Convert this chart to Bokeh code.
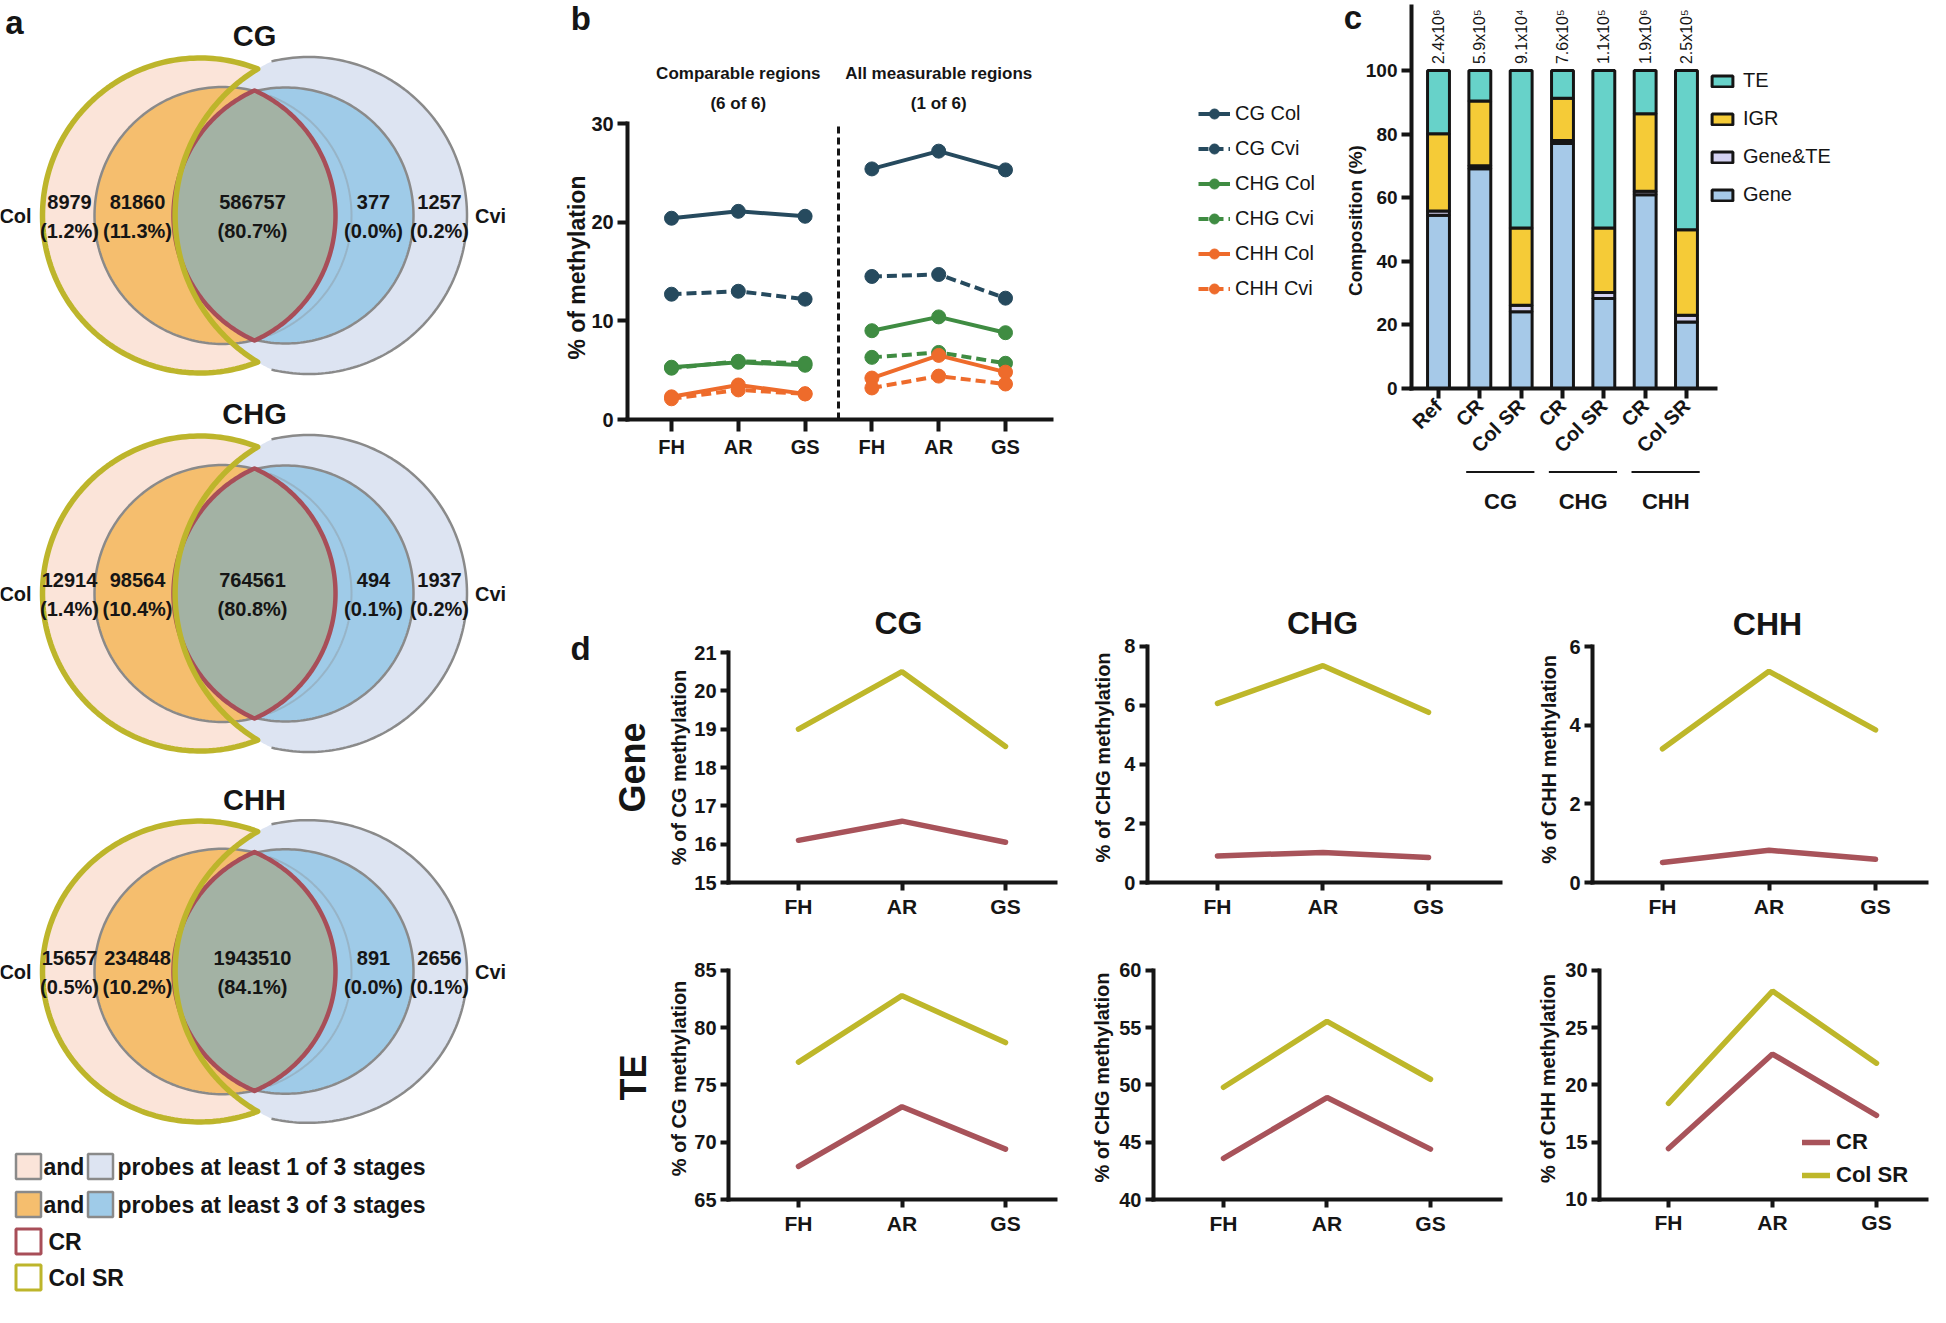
import numpy as np
from bokeh.plotting import figure
from bokeh.models import (ColumnDataSource, Range1d, FixedTicker, Legend, LegendItem)
from bokeh.layouts import row, column
from bokeh.embed import file_html
from bokeh.resources import INLINE
from bokeh.core.properties import value

SANS = "Liberation Sans"
INK = "#151515"

# ------------------------------------------------------------------ DATA
# (a) Venn diagrams
venn_titles = ["CG", "CHG", "CHH"]
col_only = [8979, 12914, 15657]
col_only_pct = [1.2, 1.4, 0.5]
col_3of3 = [81860, 98564, 234848]
col_3of3_pct = [11.3, 10.4, 10.2]
common = [586757, 764561, 1943510]
common_pct = [80.7, 80.8, 84.1]
cvi_3of3 = [377, 494, 891]
cvi_3of3_pct = [0.0, 0.1, 0.0]
cvi_only = [1257, 1937, 2656]
cvi_only_pct = [0.2, 0.2, 0.1]
legend_a_rows = ["probes at least 1 of 3 stages", "probes at least 3 of 3 stages"]

# (b) % methylation
stages = ["FH", "AR", "GS"]
b_titles = [("Comparable regions", "(6 of 6)"), ("All measurable regions", "(1 of 6)")]
b_names = ["CG Col", "CG Cvi", "CHG Col", "CHG Cvi", "CHH Col", "CHH Cvi"]
cg_col_comp = [20.4, 21.1, 20.6]
cg_col_all = [25.4, 27.2, 25.3]
cg_cvi_comp = [12.7, 13.0, 12.2]
cg_cvi_all = [14.5, 14.7, 12.3]
chg_col_comp = [5.3, 5.8, 5.5]
chg_col_all = [9.0, 10.4, 8.8]
chg_cvi_comp = [5.2, 5.9, 5.7]
chg_cvi_all = [6.3, 6.8, 5.7]
chh_col_comp = [2.3, 3.5, 2.6]
chh_col_all = [4.2, 6.5, 4.8]
chh_cvi_comp = [2.1, 3.0, 2.6]
chh_cvi_all = [3.2, 4.4, 3.6]

# (c) composition
c_bars = ["Ref", "CR", "Col SR", "CR", "Col SR", "CR", "Col SR"]
c_groups = ["CG", "CHG", "CHH"]
c_counts = ["2.4x10\u2076", "5.9x10\u2075", "9.1x10\u2074", "7.6x10\u2075",
            "1.1x10\u2075", "1.9x10\u2076", "2.5x10\u2075"]
c_gene = [54.5, 69.1, 24.1, 77.0, 28.3, 60.9, 20.9]
c_gene_te = [1.3, 0.9, 2.1, 1.0, 1.9, 1.1, 2.1]
c_igr = [24.3, 20.4, 24.3, 13.3, 20.3, 24.4, 26.9]
c_te = [19.9, 9.6, 49.5, 8.7, 49.5, 13.6, 50.1]

# (d) Gene / TE methylation
gene_cg_cr = [16.1, 16.6, 16.05]
gene_cg_sr = [19.0, 20.5, 18.55]
gene_chg_cr = [0.9, 1.02, 0.85]
gene_chg_sr = [6.07, 7.35, 5.77]
gene_chh_cr = [0.51, 0.82, 0.59]
gene_chh_sr = [3.40, 5.37, 3.88]
te_cg_cr = [67.9, 73.1, 69.4]
te_cg_sr = [77.0, 82.8, 78.7]
te_chg_cr = [43.6, 48.9, 44.4]
te_chg_sr = [49.8, 55.55, 50.5]
te_chh_cr = [14.45, 22.7, 17.35]
te_chh_sr = [18.4, 28.2, 21.9]

# ------------------------------------------------------------------ STYLE
PEACH, LAV, ORANGE, BLUE = "#FBE4D9", "#DDE4F2", "#F5BE6E", "#9FCBE8"
LENS, GRAY, RED, OLIVE = "#A3B2A4", "#8A8A8A", "#A84E58", "#BDB52B"
CG_C, CHG_C, CHH_C = "#264A5E", "#3F8C42", "#EE6B2B"
TE_C, IGR_C, GTE_C, GENE_C = "#67D2C9", "#F5CB37", "#D4D2F2", "#A6C9E8"
CR_C, SR_C = "#A8535A", "#BEB72A"


def full_fig(width, height, xr, yr, axes=True):
    kw = {} if axes else dict(x_axis_type=None, y_axis_type=None)
    p = figure(width=width, height=height, x_range=Range1d(*xr), y_range=Range1d(*yr),
               output_backend="svg", toolbar_location=None, min_border=0, **kw)
    p.title.visible = False
    p.grid.visible = False
    p.outline_line_color = None
    p.background_fill_color = "white"
    return p


def style_axes(p, xloc, xb, yloc, yb, tick_out=10, tick_size="20px"):
    p.xaxis.fixed_location = xloc
    p.xaxis.bounds = xb
    p.yaxis.fixed_location = yloc
    p.yaxis.bounds = yb
    for ax in p.axis:
        ax.axis_line_width = 4
        ax.axis_line_color = INK
        ax.axis_line_cap = "square"
        ax.major_tick_line_width = 4
        ax.major_tick_line_color = INK
        ax.major_tick_out = tick_out
        ax.major_tick_in = 0
        ax.minor_tick_line_color = None
        ax.major_label_text_font = SANS
        ax.major_label_text_font_style = "bold"
        ax.major_label_text_font_size = tick_size
        ax.major_label_text_color = INK
        ax.major_label_standoff = 4


def txt(p, x, y, texts, size, bold=True, align="center", angle=0.0, baseline="middle"):
    p.text(x=x, y=y, text=texts, angle=angle, text_font=value(SANS),
           text_font_style="bold" if bold else "normal", text_font_size=size,
           text_align=align, text_baseline=baseline, text_color=INK)


def arc(cx, cy, r, sy, t0, t1, n=160):
    t = np.linspace(t0, t1, n)
    return cx + r * np.cos(t), cy + r * sy * np.sin(t)


def circle_cross(ax_, ra, bx_, rb):
    xi = (ra ** 2 - rb ** 2 - ax_ ** 2 + bx_ ** 2) / (2 * (bx_ - ax_))
    return xi, np.sqrt(ra ** 2 - (xi - ax_) ** 2)


# ------------------------------------------------------------------ (a)
pa = full_fig(560, 1307, (0, 560), (1307, 0), axes=False)
MID = 254
venn_cy = [215, 593, 971]
venn_sy = [1.0, 1.0, 0.955]
# circle geometry (offset from the venn centre, radius)
COL_OUT, CVI_OUT = (-54.5, 157.5), (54.0, 158.5)
COL_IN, CVI_IN = (-31.5, 128.5), (31.0, 128.0)
SR_CUT = (92.0, 171.4)        # inner edge of the Col SR crescent
LENS_L, LENS_R = (56.0, 137.0), (-56.0, 137.0)

tx, ty, tt = [], [], []
for k in range(3):
    cy, sy = venn_cy[k], venn_sy[k]
    # Col outer (peach)
    xs, ys = arc(MID + COL_OUT[0], cy, COL_OUT[1], sy, 0, 2 * np.pi, 240)
    pa.patch(xs, ys, fill_color=PEACH, line_color=GRAY, line_width=2.5)
    # Cvi outer (lavender), left edge follows the crescent cut
    xi, yi = circle_cross(SR_CUT[0], SR_CUT[1], CVI_OUT[0], CVI_OUT[1])
    t0 = np.arctan2(-yi, xi - CVI_OUT[0])
    ox, oy = arc(MID + CVI_OUT[0], cy, CVI_OUT[1], sy, t0, -t0)
    t1 = np.arctan2(yi, xi - SR_CUT[0])
    ix, iy = arc(MID + SR_CUT[0], cy, SR_CUT[1], sy, t1, 2 * np.pi - t1)
    pa.patch(np.r_[ox, ix], np.r_[oy, iy], fill_color=LAV, line_color=None)
    pa.line(ox, oy, line_color=GRAY, line_width=2.5)
    # Col inner (orange)
    xs, ys = arc(MID + COL_IN[0], cy, COL_IN[1], sy, 0, 2 * np.pi, 240)
    pa.patch(xs, ys, fill_color=ORANGE, line_color=GRAY, line_width=2.5)
    # Cvi inner (blue), left edge follows the CR lens
    xi, yi = circle_cross(LENS_L[0], LENS_L[1], CVI_IN[0], CVI_IN[1])
    t0 = np.arctan2(-yi, xi - CVI_IN[0])
    bx, by = arc(MID + CVI_IN[0], cy, CVI_IN[1], sy, t0, -t0)
    t1 = np.arctan2(yi, xi - LENS_L[0])
    lx, ly = arc(MID + LENS_L[0], cy, LENS_L[1], sy, t1, 2 * np.pi - t1)
    pa.patch(np.r_[bx, lx], np.r_[by, ly], fill_color=BLUE, line_color=None)
    pa.line(bx, by, line_color=GRAY, line_width=2.5)
    xs, ys = arc(MID + COL_IN[0], cy, COL_IN[1], sy, -1.2, 1.2)
    pa.line(xs, ys, line_color=GRAY, line_width=2, line_alpha=0.35)
    # CR lens
    a1 = np.arctan2(125.0, -LENS_L[0])
    lx1, ly1 = arc(MID + LENS_L[0], cy, LENS_L[1], sy, a1, 2 * np.pi - a1)
    a2 = np.arctan2(125.0, -LENS_R[0])
    lx2, ly2 = arc(MID + LENS_R[0], cy, LENS_R[1], sy, -a2, a2)
    pa.patch(np.r_[lx1, lx2], np.r_[ly1, ly2], fill_color=LENS, line_color=RED,
             line_width=4.5, line_join="round")
    # Col SR crescent
    xi, yi = circle_cross(COL_OUT[0], COL_OUT[1], SR_CUT[0], SR_CUT[1])
    ta = np.arctan2(-yi, xi - COL_OUT[0])
    cx1, cy1 = arc(MID + COL_OUT[0], cy, COL_OUT[1], sy, ta, ta - (2 * np.pi + 2 * ta))
    tb = np.arctan2(yi, xi - SR_CUT[0])
    cx2, cy2 = arc(MID + SR_CUT[0], cy, SR_CUT[1], sy, tb, 2 * np.pi - tb)
    pa.patch(np.r_[cx1, cx2], np.r_[cy1, cy2], fill_alpha=0, line_color=OLIVE,
             line_width=5.5, line_join="round")

    vals = [(col_only[k], col_only_pct[k], -185), (col_3of3[k], col_3of3_pct[k], -117),
            (common[k], common_pct[k], -2), (cvi_3of3[k], cvi_3of3_pct[k], 119),
            (cvi_only[k], cvi_only_pct[k], 185)]
    for n_, pc, dx in vals:
        tx += [MID + dx, MID + dx]
        ty += [cy - 14, cy + 15]
        tt += [str(n_), "(%.1f%%)" % pc]
    tx += [MID - 239, MID + 236]
    ty += [cy, cy]
    tt += ["Col", "Cvi"]

txt(pa, tx, ty, tt, "20px")
txt(pa, [MID] * 3, [cy - 180 * sy for cy, sy in zip(venn_cy, venn_sy)], venn_titles, "29px")

# legend of (a)
leg_y = [1166, 1204, 1241, 1277]
pa.rect(x=[28, 100, 28, 100], y=[leg_y[0], leg_y[0], leg_y[1], leg_y[1]],
        width=25, height=25, fill_color=[PEACH, LAV, ORANGE, BLUE],
        line_color=GRAY, line_width=2.5)
pa.rect(x=[28, 28], y=leg_y[2:], width=25, height=25, fill_color="white",
        line_color=[RED, OLIVE], line_width=3)
txt(pa, [43, 43, 117, 117, 48, 48],
    [leg_y[0], leg_y[1], leg_y[0], leg_y[1], leg_y[2], leg_y[3]],
    ["and", "and"] + legend_a_rows + ["CR", "Col SR"], "23px", align="left")
txt(pa, [14], [22], ["a"], "33px")

# ------------------------------------------------------------------ (b)
# figure box: x 560..1320, y 0..560 (reference pixels)
pb = full_fig(760, 560, (-0.662, 10.716), (-14.29, 42.47))
style_axes(pb, 0, (0.343, 6.69), 0.343, (0, 30), tick_out=10)
pb.xaxis.major_tick_out = 12
pb.yaxis.ticker = FixedTicker(ticks=[0, 10, 20, 30])
pos_comp = [i + 1 for i in range(len(stages))]
pos_all = [i + 1 + len(stages) for i in range(len(stages))]
pb.xaxis.ticker = FixedTicker(ticks=pos_comp + pos_all)
pb.xaxis.major_label_overrides = {p: s for p, s in zip(pos_comp + pos_all, stages + stages)}
pb.segment(x0=[len(stages) + 0.5], y0=[0], x1=[len(stages) + 0.5], y1=[30],
           line_color=INK, line_width=3, line_dash="7 4")
b_data = [(cg_col_comp, cg_col_all, CG_C, "solid"), (cg_cvi_comp, cg_cvi_all, CG_C, "10 5"),
          (chg_col_comp, chg_col_all, CHG_C, "solid"), (chg_cvi_comp, chg_cvi_all, CHG_C, "10 5"),
          (chh_col_comp, chh_col_all, CHH_C, "solid"), (chh_cvi_comp, chh_cvi_all, CHH_C, "10 5")]
b_items = []
for name, (comp, allm, colr, dash) in zip(b_names, b_data):
    l1 = pb.line(pos_comp, comp, line_color=colr, line_width=4, line_dash=dash)
    pb.line(pos_all, allm, line_color=colr, line_width=4, line_dash=dash)
    s = pb.scatter(pos_comp + pos_all, comp + allm, size=14, fill_color=colr,
                   line_color=colr)
    b_items.append(LegendItem(label=name, renderers=[l1, s]))
leg_b = Legend(items=b_items, location=(638, 259), padding=0, margin=0, spacing=10,
               glyph_width=32, glyph_height=25, label_height=25, label_standoff=5,
               label_text_font=SANS, label_text_font_size="20px",
               label_text_color=INK, border_line_alpha=0, background_fill_alpha=0)
pb.add_layout(leg_b)
for (t1, t2), xc in zip(b_titles, [pos_comp[1], pos_all[1]]):
    txt(pb, [xc, xc], [35.06, 32.0], [t1, t2], "17px")
txt(pb, [-0.422], [15.4], ["% of methylation"], "23px", angle=np.pi / 2)
txt(pb, [-0.358], [40.6], ["b"], "33px")

# ------------------------------------------------------------------ (c)
# figure box: x 1320..1930, y 0..560
pc = full_fig(610, 560, (-2.855, 11.904), (-54.09, 122.0))
style_axes(pc, 0, (-0.653, 6.70), -0.653, (0, 120), tick_size="19px")
pc.xaxis.major_label_text_font_size = "20px"
bar_x = list(range(len(c_bars)))
src_c = ColumnDataSource(dict(x=bar_x, Gene=c_gene, GeneTE=c_gene_te, IGR=c_igr, TE=c_te))
rs = pc.vbar_stack(["Gene", "GeneTE", "IGR", "TE"], x="x", width=0.53, source=src_c,
                   fill_color=[GENE_C, GTE_C, IGR_C, TE_C], line_color=INK, line_width=3)
pc.yaxis.ticker = FixedTicker(ticks=[0, 20, 40, 60, 80, 100])
pc.xaxis.ticker = FixedTicker(ticks=bar_x)
pc.xaxis.major_label_overrides = {i: s for i, s in zip(bar_x, c_bars)}
pc.xaxis.major_label_orientation = np.pi / 4
tops = [g + gt + i + t for g, gt, i, t in zip(c_gene, c_gene_te, c_igr, c_te)]
txt(pc, bar_x, [t + 2 for t in tops], c_counts, "16px", bold=False, align="left",
    angle=np.pi / 2)
leg_c = Legend(items=[LegendItem(label="TE", renderers=[rs[3]]),
                      LegendItem(label="IGR", renderers=[rs[2]]),
                      LegendItem(label="Gene&TE", renderers=[rs[1]]),
                      LegendItem(label="Gene", renderers=[rs[0]])],
               location=(389, 354), padding=0, margin=0, spacing=15,
               glyph_width=26, glyph_height=14, label_height=23, label_standoff=8,
               label_text_font=SANS, label_text_font_size="20px", label_text_color=INK,
               border_line_alpha=0, background_fill_alpha=0)
pc.add_layout(leg_c)
gx0 = [1 + 2 * gi - 0.33 for gi in range(len(c_groups))]
gx1 = [2 + 2 * gi + 0.32 for gi in range(len(c_groups))]
pc.segment(x0=gx0, y0=[-26.3] * 3, x1=gx1, y1=[-26.3] * 3, line_color=INK, line_width=2)
txt(pc, [1.5 + 2 * gi for gi in range(len(c_groups))], [-31.6] * 3, c_groups, "22px",
    baseline="top")
txt(pc, [-2.008], [52.8], ["Composition (%)"], "19px", angle=np.pi / 2)
txt(pc, [-2.07], [116.5], ["c"], "33px")


# ------------------------------------------------------------------ (d)
def make_d(width, height, xr, yr, xaxis_span, ylow, yticks, cr, sr):
    p = full_fig(width, height, xr, yr)
    style_axes(p, ylow, xaxis_span, xaxis_span[0], (yticks[0], yticks[-1]), tick_out=8)
    p.xaxis.major_label_text_font_size = "21px"
    x = list(range(len(stages)))
    r_cr = p.line(x, cr, line_color=CR_C, line_width=5.5, line_cap="round")
    r_sr = p.line(x, sr, line_color=SR_C, line_width=5.5, line_cap="round")
    p.xaxis.ticker = FixedTicker(ticks=x)
    p.xaxis.major_label_overrides = {i: s for i, s in zip(x, stages)}
    p.yaxis.ticker = FixedTicker(ticks=yticks)
    return p, r_cr, r_sr


d11, _, _ = make_d(510, 370, (-2.2995, 2.628), (13.748, 23.40), (-0.676, 2.483), 15,
                   [15, 16, 17, 18, 19, 20, 21], gene_cg_cr, gene_cg_sr)
d12, _, _ = make_d(440, 370, (-1.393, 2.777), (-1.627, 10.915), (-0.664, 2.682), 0,
                   [0, 2, 4, 6, 8], gene_chg_cr, gene_chg_sr)
d13, _, _ = make_d(420, 370, (-1.427, 2.516), (-1.220, 8.187), (-0.657, 2.479), 0,
                   [0, 2, 4, 6], gene_chh_cr, gene_chh_sr)
d21, _, _ = make_d(510, 377, (-2.2995, 2.628), (55.57, 88.49), (-0.676, 2.483), 65,
                   [65, 70, 75, 80, 85], te_cg_cr, te_cg_sr)
d22, _, _ = make_d(440, 377, (-1.478, 2.773), (30.57, 63.49), (-0.676, 2.676), 40,
                   [40, 45, 50, 55, 60], te_chg_cr, te_chg_sr)
d23, rcr, rsr = make_d(420, 377, (-1.519, 2.519), (0.568, 33.49), (-0.663, 2.48), 10,
                       [10, 15, 20, 25, 30], te_chh_cr, te_chh_sr)

txt(d11, [0.966], [21.76], ["CG"], "32px")
txt(d12, [0.995], [8.78], ["CHG"], "32px")
txt(d13, [0.986], [6.585], ["CHH"], "32px")
txt(d11, [-1.159], [18.0], ["% of CG methylation"], "20px", angle=np.pi / 2)
txt(d12, [-1.081], [4.24], ["% of CHG methylation"], "20px", angle=np.pi / 2)
txt(d13, [-1.070], [3.13], ["% of CHH methylation"], "20px", angle=np.pi / 2)
txt(d21, [-1.159], [75.57], ["% of CG methylation"], "20px", angle=np.pi / 2)
txt(d22, [-1.169], [50.65], ["% of CHG methylation"], "20px", angle=np.pi / 2)
txt(d23, [-1.154], [20.57], ["% of CHH methylation"], "20px", angle=np.pi / 2)
txt(d11, [-1.604], [18.0], ["Gene"], "36px", angle=np.pi / 2)
txt(d21, [-1.594], [75.65], ["TE"], "36px", angle=np.pi / 2)
txt(d11, [-2.106], [21.1], ["d"], "33px")

leg_d = Legend(items=[LegendItem(label="CR", renderers=[rcr]),
                      LegendItem(label="Col SR", renderers=[rsr])],
               location=(292, 119), padding=0, margin=0, spacing=7,
               glyph_width=28, glyph_height=26, label_height=26, label_standoff=6,
               label_text_font=SANS, label_text_font_style="bold",
               label_text_font_size="22px", label_text_color=INK,
               border_line_alpha=0, background_fill_alpha=0)
d23.add_layout(leg_d)

layout = row(pa, column(row(pb, pc), row(d11, d12, d13), row(d21, d22, d23)))
open("out.html", "w").write(file_html(layout, INLINE))
